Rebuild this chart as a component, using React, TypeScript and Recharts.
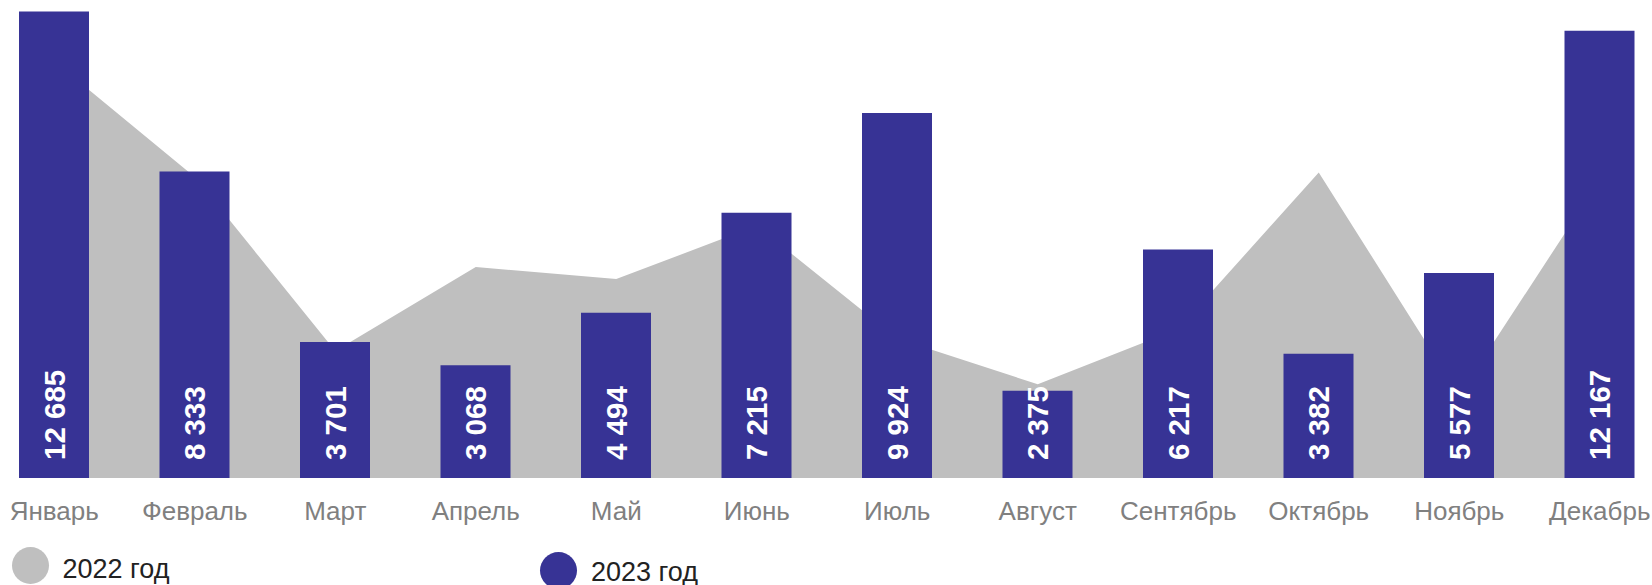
import React from "react";
import { ComposedChart, Area, Bar, XAxis, YAxis, LabelList } from "recharts";

const months = [
  "Январь",
  "Февраль",
  "Март",
  "Апрель",
  "Май",
  "Июнь",
  "Июль",
  "Август",
  "Сентябрь",
  "Октябрь",
  "Ноябрь",
  "Декабрь",
];

const values2022 = [11333, 8186, 3454, 5736, 5409, 6859, 3794, 2548, 4052, 8311, 2257, 8107];
const values2023 = [12685, 8333, 3701, 3068, 4494, 7215, 9924, 2375, 6217, 3382, 5577, 12167];

const seriesNames = ["2022 год", "2023 год"];

const COLORS = {
  y2022: "#BFBFBF",
  y2023: "#373395",
};

const data = months.map((m, i) => ({
  month: m,
  y2022: values2022[i],
  y2023: values2023[i],
}));

const fmt = (v: number) => String(v).replace(/\B(?=(\d{3})+(?!\d))/g, " ");

const BarValueLabel = (props: any) => {
  const { x, y, width, height, value } = props;
  const cx = Number(x) + Number(width) / 2 + 10.5;
  const by = Number(y) + Number(height) - 18;
  return (
    <text
      transform={`translate(${cx}, ${by}) rotate(-90)`}
      fill="#ffffff"
      fontSize={29.5}
      fontWeight="bold"
      fontFamily="'Liberation Sans', Arial, sans-serif"
      textAnchor="start"
    >
      {fmt(value)}
    </text>
  );
};

const MonthTick = (props: any) => {
  const { x, payload } = props;
  return (
    <text
      x={x}
      y={519.5}
      textAnchor="middle"
      fill="#808080"
      fontSize={26}
      fontFamily="'Liberation Sans', Arial, sans-serif"
    >
      {payload.value}
    </text>
  );
};

const legendText: React.CSSProperties = {
  position: "absolute",
  fontFamily: "'Liberation Sans', Arial, sans-serif",
  fontSize: 27,
  lineHeight: "27px",
  color: "#222222",
  whiteSpace: "nowrap",
};

const dot = (color: string, left: number, top: number): React.CSSProperties => ({
  position: "absolute",
  left,
  top,
  width: 37,
  height: 37,
  borderRadius: "50%",
  background: color,
});

export default function App() {
  return (
    <div
      style={{
        position: "absolute",
        left: 0,
        top: 0,
        width: 1652,
        height: 585,
        overflow: "hidden",
        background: "#ffffff",
      }}
    >
      <div style={{ position: "absolute", left: -16, top: 0 }}>
        <ComposedChart
          width={1686}
          height={585}
          data={data}
          margin={{ top: 0, right: 0, left: 0, bottom: 67 }}
        >
          <XAxis
            dataKey="month"
            height={40}
            axisLine={false}
            tickLine={false}
            interval={0}
            tick={<MonthTick />}
          />
          <YAxis hide domain={[0, 13000]} />
          <Area
            type="linear"
            dataKey="y2022"
            fill={COLORS.y2022}
            fillOpacity={1}
            stroke="none"
            isAnimationActive={false}
            dot={false}
            activeDot={false}
          />
          <Bar dataKey="y2023" fill={COLORS.y2023} barSize={70} isAnimationActive={false}>
            <LabelList dataKey="y2023" content={<BarValueLabel />} />
          </Bar>
        </ComposedChart>
      </div>

      <div style={dot(COLORS.y2022, 11.5, 547)} />
      <div style={{ ...legendText, left: 62.5, top: 555.5 }}>{seriesNames[0]}</div>
      <div style={dot(COLORS.y2023, 539.5, 551.5)} />
      <div style={{ ...legendText, left: 591, top: 559 }}>{seriesNames[1]}</div>
    </div>
  );
}
